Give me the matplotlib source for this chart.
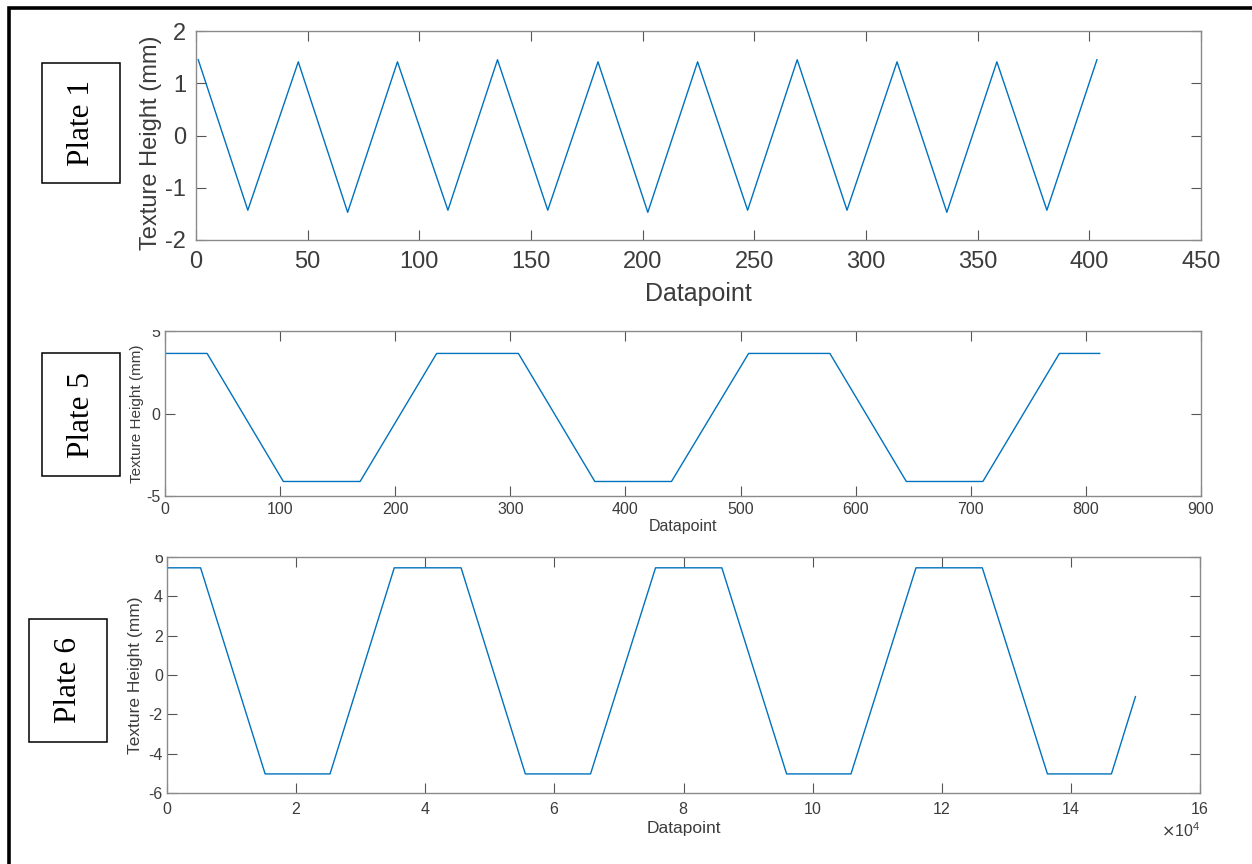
import matplotlib
matplotlib.use("Agg")
import matplotlib.pyplot as plt
from matplotlib.lines import Line2D
from matplotlib.patches import Rectangle

# ---------------- data ----------------
plate1_x = [1, 23.2, 45.8, 67.9, 90.2, 112.8, 135.0, 157.5, 180.0, 202.3,
            224.6, 247.0, 269.2, 291.5, 313.9, 336.2, 358.6, 381.0, 403.4]
plate1_y = [1.45, -1.43, 1.41, -1.47, 1.41, -1.43, 1.45, -1.43, 1.41, -1.47,
            1.41, -1.43, 1.45, -1.43, 1.41, -1.47, 1.41, -1.43, 1.45]

plate5_x = [0, 36.6, 102.8, 169.5, 236, 307, 373.4, 440, 507, 577.6, 644, 710.5, 777, 812]
plate5_y = [3.64, 3.64, -4.12, -4.12, 3.64, 3.64, -4.12, -4.12, 3.64, 3.64, -4.12, -4.12, 3.64, 3.64]

plate6_x = [0, 5200, 15200, 25250, 35200, 45550, 55500, 65600, 75670, 85940,
            95970, 105940, 116010, 126280, 136370, 146280, 150000]
plate6_y = [5.45, 5.45, -5.03, -5.03, 5.45, 5.45, -5.03, -5.03, 5.45, 5.45,
            -5.03, -5.03, 5.45, 5.45, -5.03, -5.03, -1.1]

plate_names = ["Plate 1", "Plate 5", "Plate 6"]
x_label = "Datapoint"
y_label = "Texture Height (mm)"

LINE = "#0072BD"
SPINE = "#8a8a8a"
TXT = "#3c3c3c"
W, H = 1252, 864

plt.rcParams['font.family'] = ['Liberation Sans', 'DejaVu Sans']
plt.rcParams['axes.unicode_minus'] = False
fig = plt.figure(figsize=(W / 100, H / 100), dpi=100)
fig.patch.set_facecolor("white")


def fx(px):
    return px / W


def fy(py):
    return 1 - py / H


def make_axes(l, t, r, b):
    return fig.add_axes([fx(l), fy(b), fx(r) - fx(l), fy(t) - fy(b)])


def style(ax, tsize, xpad, ypad):
    for s in ax.spines.values():
        s.set_color(SPINE)
        s.set_linewidth(1.0)
    ax.tick_params(which="both", direction="in", top=True, right=True,
                   length=7, width=0.8, color="#555555", labelcolor=TXT,
                   labelsize=tsize)
    ax.tick_params(axis="x", pad=xpad)
    ax.tick_params(axis="y", pad=ypad)


# ---- Plate 1 ----
ax1 = make_axes(196, 31, 1201, 240)
ax1.plot(plate1_x, plate1_y, color=LINE, lw=1.0)
ax1.set_xlim(0, 450)
ax1.set_ylim(-2, 2)
ax1.set_xticks(range(0, 451, 50))
ax1.set_yticks([-2, -1, 0, 1, 2])
style(ax1, 17, 8, 7)
ax1.set_xlabel(x_label, fontsize=18, color=TXT, va="top")
ax1.set_ylabel(y_label, fontsize=17, color=TXT)
ax1.xaxis.set_label_coords(0.5, -0.20)
ax1.yaxis.set_label_coords(-0.034, 0.466)

# ---- Plate 5 ----
ax2 = make_axes(165, 331, 1201, 496)
ax2.plot(plate5_x, plate5_y, color=LINE, lw=1.0)
ax2.set_xlim(0, 900)
ax2.set_ylim(-5, 5)
ax2.set_xticks(range(0, 901, 100))
ax2.set_yticks([-5, 0, 5])
style(ax2, 11.5, 4.5, 3.5)
ax2.set_xlabel(x_label, fontsize=11.5, color=TXT, va="top")
ax2.set_ylabel(y_label, fontsize=11, color=TXT)
ax2.xaxis.set_label_coords(0.5, -0.139)
ax2.yaxis.set_label_coords(-0.0203, 0.5)

# ---- Plate 6 ----
ax3 = make_axes(167, 557, 1200, 793)
ax3.plot(plate6_x, plate6_y, color=LINE, lw=1.0)
ax3.set_xlim(0, 160000)
ax3.set_ylim(-6, 6)
ax3.set_xticks(range(0, 160001, 20000))
ax3.set_yticks(range(-6, 7, 2))
ax3.ticklabel_format(axis="x", style="sci", scilimits=(4, 4), useMathText=True)
style(ax3, 11.5, 6, 3)
ax3.xaxis.get_offset_text().set_fontsize(11.5)
ax3.xaxis.get_offset_text().set_color(TXT)
ax3.set_xlabel(x_label, fontsize=12.5, color=TXT, va="top")
ax3.set_ylabel(y_label, fontsize=12.5, color=TXT)
ax3.xaxis.set_label_coords(0.5, -0.119)
ax3.yaxis.set_label_coords(-0.0229, 0.5)

# cropped top tick labels (composite look)
for (l, t, r, b) in [(130, 300, 163, 330), (130, 530, 165, 555)]:
    fig.add_artist(Rectangle((fx(l), fy(b)), fx(r) - fx(l), fy(t) - fy(b),
                             transform=fig.transFigure, facecolor="white",
                             edgecolor="none", zorder=5))

# ---- plate name boxes ----
boxes = [(42.3, 62.7, 120.3, 183.3), (42.3, 353.3, 120.3, 476), (29.3, 618.7, 107, 741.7)]
for name, (l, t, r, b) in zip(plate_names, boxes):
    fig.add_artist(Rectangle((fx(l), fy(b)), fx(r) - fx(l), fy(t) - fy(b),
                             transform=fig.transFigure, facecolor="white",
                             edgecolor="black", lw=1.1, zorder=6))
    fig.text(fx((l + r) / 2), fy((t + b) / 2), name, rotation=90,
             ha="center", va="center", fontsize=22.5,
             family=["Liberation Serif", "DejaVu Serif"], color="black", zorder=7)

# ---- figure border (top and left) ----
fig.add_artist(Line2D([fx(8.8), fx(8.8), 1.0], [0.0, fy(7.6), fy(7.6)],
                      transform=fig.transFigure, color="black", lw=2.6,
                      solid_joinstyle="miter", zorder=10))

fig.savefig("out.png", dpi=100, facecolor="white")
